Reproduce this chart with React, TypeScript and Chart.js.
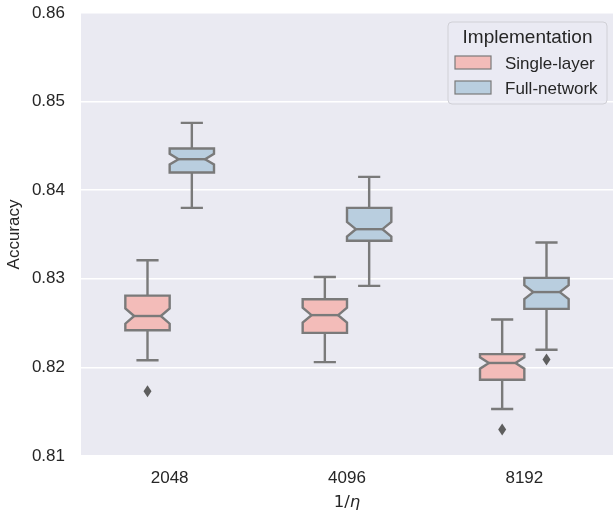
import React, { useEffect, useRef } from 'react';
import { Chart, registerables } from 'chart.js';

Chart.register(...registerables);

// ---- data ----
const categories = ['2048', '4096', '8192'];
const seriesNames = ['Single-layer', 'Full-network'];
const seriesColors = ['#f3bcb9', '#b9cedf'];
const yTicks = [0.81, 0.82, 0.83, 0.84, 0.85, 0.86];

const singleWhiskerLow = [0.8208, 0.8206, 0.8153];
const singleQ1 = [0.8242, 0.8239, 0.8186];
const singleMedian = [0.8258, 0.8259, 0.8205];
const singleQ3 = [0.8281, 0.8277, 0.8215];
const singleWhiskerHigh = [0.8321, 0.8302, 0.8254];
const singleOutliers = [[0.8173], [], [0.8130]];

const fullWhiskerLow = [0.8380, 0.8292, 0.8220];
const fullQ1 = [0.8420, 0.8343, 0.8266];
const fullMedian = [0.8435, 0.8356, 0.8285];
const fullQ3 = [0.8447, 0.8380, 0.8301];
const fullWhiskerHigh = [0.8476, 0.8415, 0.8341];
const fullOutliers = [[], [], [0.8209]];

const sampleSize = 50; // runs per box, used for the notch (median CI)

const FONT = '"Liberation Sans", Arial, sans-serif';
const TEXT = '#262626';
const LINE = '#7a7a7a';
const BG = '#eaeaf2';

const series = [
  { lo: singleWhiskerLow, q1: singleQ1, med: singleMedian, q3: singleQ3, hi: singleWhiskerHigh, out: singleOutliers },
  { lo: fullWhiskerLow, q1: fullQ1, med: fullMedian, q3: fullQ3, hi: fullWhiskerHigh, out: fullOutliers },
];

export default function App() {
  const ref = useRef<HTMLCanvasElement>(null);

  useEffect(() => {
    document.body.style.margin = '0';
    const canvas = ref.current;
    if (!canvas) return;

    const boxPlugin = {
      id: 'boxplot',
      beforeDraw(chart: any) {
        const { ctx, chartArea: a } = chart;
        ctx.save();
        ctx.fillStyle = BG;
        ctx.fillRect(a.left, a.top, a.right - a.left, a.bottom - a.top);
        ctx.restore();
      },
      afterDatasetsDraw(chart: any) {
        const { ctx } = chart;
        const xs = chart.scales.x;
        const ys = chart.scales.y;
        const catW = xs.getPixelForValue(1) - xs.getPixelForValue(0);
        const boxW = catW * 0.25;
        ctx.save();
        ctx.lineWidth = 2.4;
        ctx.strokeStyle = LINE;
        ctx.lineJoin = 'miter';
        categories.forEach((_, ci) => {
          series.forEach((s, si) => {
            const cx = xs.getPixelForValue(ci) + (si === 0 ? -1 : 1) * catW * 0.125;
            const left = cx - boxW / 2;
            const right = cx + boxW / 2;
            const wl = cx - boxW * 0.3;
            const wr = cx + boxW * 0.3;
            const iqr = s.q3[ci] - s.q1[ci];
            const ci95 = (1.57 * iqr) / Math.sqrt(sampleSize);
            const yq1 = ys.getPixelForValue(s.q1[ci]);
            const yq3 = ys.getPixelForValue(s.q3[ci]);
            const ym = ys.getPixelForValue(s.med[ci]);
            const ynl = ys.getPixelForValue(s.med[ci] - ci95);
            const ynh = ys.getPixelForValue(s.med[ci] + ci95);
            const ylo = ys.getPixelForValue(s.lo[ci]);
            const yhi = ys.getPixelForValue(s.hi[ci]);
            // whiskers
            ctx.beginPath();
            ctx.moveTo(cx, yq1); ctx.lineTo(cx, ylo);
            ctx.moveTo(cx, yq3); ctx.lineTo(cx, yhi);
            ctx.moveTo(cx - boxW / 4, ylo); ctx.lineTo(cx + boxW / 4, ylo);
            ctx.moveTo(cx - boxW / 4, yhi); ctx.lineTo(cx + boxW / 4, yhi);
            ctx.stroke();
            // notched box
            ctx.beginPath();
            ctx.moveTo(left, yq1);
            ctx.lineTo(left, ynl);
            ctx.lineTo(wl, ym);
            ctx.lineTo(left, ynh);
            ctx.lineTo(left, yq3);
            ctx.lineTo(right, yq3);
            ctx.lineTo(right, ynh);
            ctx.lineTo(wr, ym);
            ctx.lineTo(right, ynl);
            ctx.lineTo(right, yq1);
            ctx.closePath();
            ctx.fillStyle = seriesColors[si];
            ctx.fill();
            ctx.stroke();
            // median
            ctx.beginPath();
            ctx.moveTo(wl, ym); ctx.lineTo(wr, ym);
            ctx.stroke();
            // outliers
            ctx.fillStyle = '#5e5e5e';
            s.out[ci].forEach((v: number) => {
              const py = ys.getPixelForValue(v);
              ctx.beginPath();
              ctx.moveTo(cx, py - 6);
              ctx.lineTo(cx + 4, py);
              ctx.lineTo(cx, py + 6);
              ctx.lineTo(cx - 4, py);
              ctx.closePath();
              ctx.fill();
            });
          });
        });
        ctx.restore();
      },
      afterDraw(chart: any) {
        const { ctx, chartArea: a } = chart;
        ctx.save();
        // x axis title 1/η
        ctx.fillStyle = TEXT;
        ctx.textBaseline = 'alphabetic';
        ctx.font = '16.5px "DejaVu Sans"';
        const p1 = '1/';
        const w1 = ctx.measureText(p1).width;
        ctx.font = 'italic 16.5px "DejaVu Sans"';
        const w2 = ctx.measureText('η').width;
        const cx = (a.left + a.right) / 2;
        const x0 = cx - (w1 + w2) / 2;
        ctx.font = '16.5px "DejaVu Sans"';
        ctx.textAlign = 'left';
        ctx.fillText(p1, x0, 507);
        ctx.font = 'italic 16.5px "DejaVu Sans"';
        ctx.fillText('η', x0 + w1, 507);

        // legend
        const lx = a.right - 165;
        const ly = a.top + 9;
        const lw = 159;
        const lh = 82;
        ctx.beginPath();
        ctx.roundRect(lx, ly, lw, lh, 4);
        ctx.fillStyle = 'rgba(234,234,242,0.8)';
        ctx.fill();
        ctx.strokeStyle = '#d0d0d6';
        ctx.lineWidth = 1;
        ctx.stroke();
        ctx.fillStyle = TEXT;
        ctx.textAlign = 'center';
        ctx.font = `19px ${FONT}`;
        ctx.fillText('Implementation', lx + lw / 2, ly + 21);
        ctx.textAlign = 'left';
        ctx.font = `17px ${FONT}`;
        seriesNames.forEach((name, i) => {
          const ey = ly + 34 + i * 25;
          ctx.fillStyle = seriesColors[i];
          ctx.fillRect(lx + 7, ey, 36, 13);
          ctx.strokeStyle = LINE;
          ctx.lineWidth = 1.2;
          ctx.strokeRect(lx + 7, ey, 36, 13);
          ctx.fillStyle = TEXT;
          ctx.fillText(name, lx + 57, ey + 13);
        });
        ctx.restore();
      },
    };

    const chart = new Chart(canvas, {
      type: 'line',
      data: { labels: categories, datasets: [] },
      options: {
        responsive: false,
        animation: false,
        layout: { padding: { top: 13, right: 0, left: 0, bottom: 0 } },
        plugins: { legend: { display: false }, tooltip: { enabled: false } },
        scales: {
          x: {
            type: 'category',
            offset: true,
            grid: { display: false, drawTicks: false },
            border: { display: false },
            ticks: { color: TEXT, font: { family: FONT, size: 17 }, padding: 12 },
            afterFit(scale: any) { scale.height = 60; },
          },
          y: {
            type: 'linear',
            min: yTicks[0],
            max: yTicks[yTicks.length - 1],
            afterBuildTicks(scale: any) { scale.ticks = yTicks.map((v) => ({ value: v })); },
            grid: { color: '#ffffff', lineWidth: 1.5, drawTicks: true, tickLength: 16, tickColor: 'rgba(0,0,0,0)' },
            border: { display: false },
            ticks: {
              color: TEXT,
              font: { family: FONT, size: 17 },
              padding: 0,
              callback: (v: any) => Number(v).toFixed(2),
            },
            title: { display: true, text: 'Accuracy', color: TEXT, font: { family: FONT, size: 17 }, padding: { top: 4, bottom: 0 } },
            afterFit(scale: any) { scale.width = 81; },
          },
        },
      },
      plugins: [boxPlugin],
    });
    return () => chart.destroy();
  }, []);

  return (
    <div style={{ width: 613, height: 516 }}>
      <canvas ref={ref} width={613} height={516} />
    </div>
  );
}
